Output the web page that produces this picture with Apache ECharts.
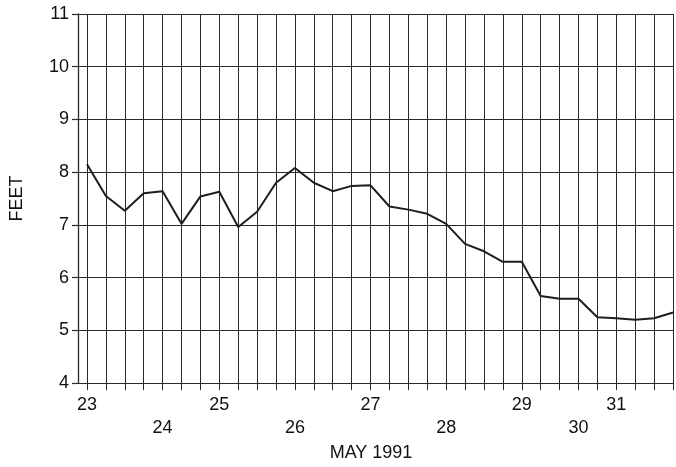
<!DOCTYPE html>
<html>
<head>
<meta charset="utf-8">
<script src="https://cdn.jsdelivr.net/npm/echarts@6/dist/echarts.min.js"></script>
<style>
html,body{margin:0;padding:0;background:#fff;}
#chart{width:676px;height:467px;}
</style>
</head>
<body>
<div id="chart"></div>
<script>
// Readings, one per vertical grid line (index 0 = May 23)
var pointIndex = [0,1,2,3,4,5,6,7,8,9,10,11,12,13,14,15,16,17,18,19,20,21,22,23,24,25,26,27,28,29,30,31];
var stageFeet = [8.15,7.55,7.27,7.60,7.64,7.02,7.54,7.63,6.96,7.25,7.80,8.08,7.80,7.64,7.74,7.75,7.35,7.29,7.21,7.02,6.64,6.50,6.30,6.30,5.65,5.60,5.60,5.25,5.23,5.20,5.23,5.34];
// Day labels and the grid line each one sits under
var dayLabels = ['23','24','25','26','27','28','29','30','31'];
var dayLabelIndex = [0,4,7,11,15,19,23,26,28];
var yTicks = [4,5,6,7,8,9,10,11];

var labelMap = {};
dayLabels.forEach(function(d,i){ labelMap[dayLabelIndex[i]] = d; });

var seriesData = pointIndex.map(function(x,i){ return [x, stageFeet[i]]; });

var font = '"Liberation Sans", Arial, Helvetica, sans-serif';
var ink = '#111';
var gridInk = '#2a2a2a';

var chart = echarts.init(document.getElementById('chart'));
chart.setOption({
  animation: false,
  backgroundColor: '#fff',
  grid: { left: 83, right: 0, top: 14, bottom: 82, containLabel: false },
  xAxis: {
    type: 'value',
    min: 0, max: 31, interval: 1,
    name: 'MAY 1991', nameLocation: 'middle', nameGap: 58,
    nameTextStyle: { fontFamily: font, fontSize: 18, color: ink, padding: [0,0,0,-18] },
    axisLine: { show: true, onZero: false, lineStyle: { color: gridInk, width: 1 } },
    axisTick: { show: true, length: 7, lineStyle: { color: gridInk, width: 1 } },
    splitLine: { show: true, lineStyle: { color: gridInk, width: 1 } },
    axisLabel: {
      show: true, margin: 10,
      fontFamily: font, fontSize: 18, color: ink, lineHeight: 23,
      showMinLabel: true, showMaxLabel: true,
      formatter: function(v){
        var l = labelMap[Math.round(v)];
        if (l === undefined || Math.abs(v - Math.round(v)) > 1e-6) return '';
        return (parseInt(l,10) % 2 === 0) ? '\n' + l : l;
      }
    }
  },
  yAxis: [{
    type: 'value', min: 4, max: 11, interval: 1, offset: 9,
    name: 'FEET', nameLocation: 'middle', nameGap: 52,
    nameTextStyle: { fontFamily: font, fontSize: 18, color: ink },
    axisLine: { show: true, onZero: false, lineStyle: { color: gridInk, width: 1.3 } },
    axisTick: { show: true, inside: false, length: 6, lineStyle: { color: gridInk, width: 1.2 } },
    splitLine: { show: true, lineStyle: { color: gridInk, width: 1 } },
    axisLabel: { margin: 9, fontFamily: font, fontSize: 18, color: ink,
      formatter: function(v){ return yTicks.indexOf(v) >= 0 ? String(v) : ''; } }
  },{
    type: 'value', min: 4, max: 11, interval: 1, offset: 9, position: 'left',
    axisLine: { show: false, onZero: false },
    axisTick: { show: true, inside: true, length: 9, lineStyle: { color: gridInk, width: 1 } },
    splitLine: { show: false },
    axisLabel: { show: false }
  }],
  series: [{
    type: 'line',
    yAxisIndex: 0,
    data: seriesData,
    showSymbol: false,
    symbol: 'none',
    clip: true,
    lineStyle: { color: '#1e1e1e', width: 2 }
  }]
});
</script>
</body>
</html>
